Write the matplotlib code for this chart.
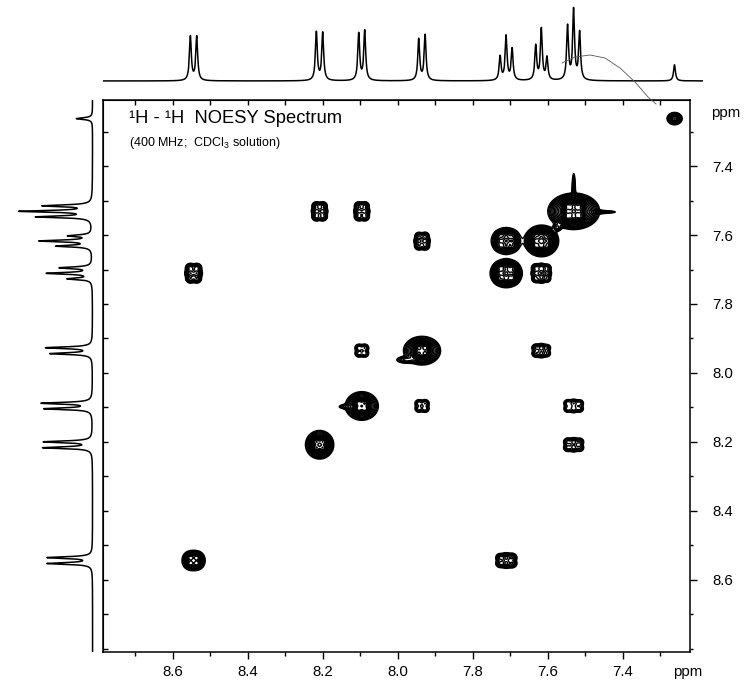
import numpy as np
import matplotlib
matplotlib.use('Agg')
import matplotlib.pyplot as plt
from matplotlib.ticker import MultipleLocator
from matplotlib.lines import Line2D

plt.rcParams['font.family'] = ['Liberation Sans', 'DejaVu Sans']
plt.rcParams['mathtext.fontset'] = 'custom'
plt.rcParams['mathtext.rm'] = 'Liberation Sans'
plt.rcParams['mathtext.it'] = 'Liberation Sans:italic'

# ---------------- data ----------------
# 1H multiplets: line positions (ppm) and relative 1D line heights
line_ppm = {
    'A': [8.553, 8.536],
    'B': [8.217, 8.200],
    'C': [8.104, 8.088],
    'D': [7.944, 7.927],
    'E': [7.727, 7.711, 7.695],
    'F': [7.632, 7.617, 7.602],
    'G': [7.547, 7.531, 7.515],
    'S': [7.262],
}
line_height = {
    'A': [0.63, 0.63],
    'B': [0.69, 0.68],
    'C': [0.67, 0.71],
    'D': [0.59, 0.65],
    'E': [0.34, 0.63, 0.45],
    'F': [0.49, 0.73, 0.32],
    'G': [0.77, 1.00, 0.68],
    'S': [0.23],
}

# NOESY cross peaks: F2 (x) nucleus, F1 (y) nucleus, relative intensity,
# blob spread along x and y (ppm)
cross_x = ['A', 'B', 'C', 'D', 'E', 'F', 'G', 'S',
           'B', 'C', 'D', 'E', 'A', 'F', 'C', 'F', 'D', 'G', 'G', 'E']
cross_y = ['A', 'B', 'C', 'D', 'E', 'F', 'G', 'S',
           'G', 'G', 'F', 'F', 'E', 'E', 'D', 'D', 'C', 'C', 'B', 'A']
cross_int = [80, 120, 120, 150, 250, 300, 500, 30,
             14, 14, 14, 60, 22, 22, 6, 10, 6, 8, 10, 18]
cross_sx = [0.0131, 0.0150, 0.0175, 0.0190, 0.0154, 0.0161, 0.0228, 0.0106,
            0.0105, 0.0105, 0.0100, 0.0180, 0.0110, 0.0100, 0.0095, 0.0100,
            0.0095, 0.0100, 0.0100, 0.0105]
cross_sy = [0.0125, 0.0165, 0.0165, 0.0160, 0.0150, 0.0161, 0.0175, 0.0090,
            0.0105, 0.0105, 0.0100, 0.0175, 0.0095, 0.0110, 0.0095, 0.0100,
            0.0095, 0.0100, 0.0100, 0.0105]

# t1-noise ridges on the diagonal: x, y (ppm), half-widths x, y, intensity
ridge_x = [7.531, 7.470, 8.135, 7.575, 7.978]
ridge_y = [7.475, 7.533, 8.098, 7.578, 7.962]
ridge_sx = [0.0025, 0.028, 0.014, 0.006, 0.013]
ridge_sy = [0.030, 0.0025, 0.004, 0.006, 0.005]
ridge_int = [5, 5, 3, 4, 6]

x_major = [8.6, 8.4, 8.2, 8.0, 7.8, 7.6, 7.4]
y_major = [7.4, 7.6, 7.8, 8.0, 8.2, 8.4, 8.6]
x_lim = (8.786, 7.221)
y_lim = (8.81, 7.208)

title = '\u00b9H - \u00b9H  NOESY Spectrum'
subtitle = r'(400 MHz;  CDCl$_3$ solution)'

# ---------------- figure ----------------
W, H = 744, 680
fig = plt.figure(figsize=(W / 100, H / 100), dpi=100)

def px_rect(l, t, r, b):
    return [l / W, 1 - b / H, (r - l) / W, (b - t) / H]

ax = fig.add_axes(px_rect(103, 100, 690, 652))
ax_top = fig.add_axes(px_rect(103, 0, 703, 92))
ax_left = fig.add_axes(px_rect(0, 100, 100, 652))

# 2D contour map
gx = np.linspace(7.15, 8.85, 1100)
gy = np.linspace(7.15, 8.85, 1100)
XX, YY = np.meshgrid(gx, gy)
sig = 0.0058

def profile(grid, key):
    p = np.zeros_like(grid)
    for pos, h in zip(line_ppm[key], line_height[key]):
        p += h * np.exp(-(grid - pos) ** 2 / (2 * sig ** 2))
    return p / p.max()

Z = np.zeros((gy.size, gx.size))
for kx, ky, inten, ssx, ssy in zip(cross_x, cross_y, cross_int, cross_sx, cross_sy):
    fine = np.outer(profile(gy, ky), profile(gx, kx))
    cx0 = np.mean(line_ppm[kx])
    cy0 = np.mean(line_ppm[ky])
    env = np.exp(-(XX - cx0) ** 2 / (2 * ssx ** 2) - (YY - cy0) ** 2 / (2 * ssy ** 2))
    Z += inten * (0.8 * fine + 0.2 * env)
for rx, ry, rsx, rsy, ri in zip(ridge_x, ridge_y, ridge_sx, ridge_sy, ridge_int):
    Z += ri * np.exp(-(XX - rx) ** 2 / (2 * rsx ** 2) - (YY - ry) ** 2 / (2 * rsy ** 2))

levels = 1.0 * 1.4 ** np.arange(0, 20)
ax.contour(gx, gy, Z, levels=levels, colors='black', linewidths=1.0)

ax.set_xlim(*x_lim)
ax.set_ylim(*y_lim)
ax.xaxis.set_minor_locator(MultipleLocator(0.1))
ax.yaxis.set_minor_locator(MultipleLocator(0.1))
ax.set_xticks(x_major)
ax.set_yticks(y_major)
ax.set_xticklabels([f'{v:.1f}' for v in x_major])
ax.set_yticklabels([f'{v:.1f}' for v in y_major])
ax.yaxis.tick_right()
ax.tick_params(axis='x', which='major', direction='out', length=5, width=1,
               labelsize=10.8, pad=4, top=False, bottom=True)
ax.tick_params(axis='x', which='minor', direction='out', length=3, width=1,
               top=False, bottom=True)
ax.tick_params(axis='y', which='major', direction='out', length=5, width=1,
               labelsize=10.8, pad=11, left=False, right=True)
ax.tick_params(axis='y', which='minor', direction='out', length=2.5, width=1,
               left=False, right=True)
for s in ax.spines.values():
    s.set_linewidth(1.1)

# inward ticks on top and left edges
sx = ax.secondary_xaxis('top')
sx.xaxis.set_major_locator(MultipleLocator(0.1))
sx.tick_params(direction='in', length=3.5, width=1, labeltop=False)
sy = ax.secondary_yaxis('left')
sy.yaxis.set_major_locator(MultipleLocator(0.1))
sy.tick_params(direction='in', length=3.5, width=1, labelleft=False)

ax.text(0.045, 0.982, title, transform=ax.transAxes, fontsize=13.2,
        ha='left', va='top')
ax.text(0.045, 0.937, subtitle, transform=ax.transAxes, fontsize=9.0,
        ha='left', va='top')

fig.text(726 / W, 1 - 113 / H, 'ppm', fontsize=10.8, ha='center', va='center')
fig.text(688 / W, 1 - 672 / H, 'ppm', fontsize=10.8, ha='center', va='center')

# 1D projections
sgrid = np.linspace(7.1, 8.9, 12000)
hw = 0.0030
spec = np.zeros_like(sgrid)
for key in line_ppm:
    for pos, h in zip(line_ppm[key], line_height[key]):
        spec += h * hw ** 2 / ((sgrid - pos) ** 2 + hw ** 2)
spec /= spec.max()

ax_top.plot(sgrid, spec, color='black', lw=1.1)
ax_top.set_xlim(x_lim[0], x_lim[0] - (703 - 103) / 375)
ax_top.set_ylim(-0.15, 1.1)
ax_top.axis('off')

ax_left.plot(-spec, sgrid, color='black', lw=1.1)
ax_left.set_xlim(-1.25, 0.1)
ax_left.set_ylim(*y_lim)
ax_left.axis('off')

# hand-drawn stroke from the top trace towards the solvent peak
cx = np.array([562, 575, 590, 605, 620, 635, 648, 656])
cy = np.array([63, 57, 55, 58, 68, 82, 97, 104])
fig.add_artist(Line2D(cx / W, 1 - cy / H, color='#555555', lw=0.6,
                      transform=fig.transFigure))

fig.savefig('out.png', dpi=100)
